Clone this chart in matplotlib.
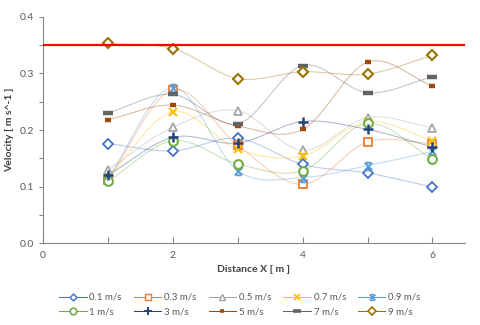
import numpy as np
import matplotlib
matplotlib.use('Agg')
import matplotlib.pyplot as plt
from matplotlib.path import Path

plt.rcParams['font.family'] = ['Lato', 'DejaVu Sans']

# Распределение скорости по расстоянию
distance = [1, 2, 3, 4, 5, 6]
v_01 = [0.176, 0.163, 0.185, 0.139, 0.124, 0.099]
v_03 = [0.112, 0.271, 0.173, 0.104, 0.179, 0.176]
v_05 = [0.130, 0.205, 0.234, 0.164, 0.222, 0.204]
v_07 = [0.116, 0.232, 0.166, 0.154, 0.215, 0.181]
v_09 = [0.115, 0.275, 0.128, 0.116, 0.137, 0.162]
v_1 = [0.109, 0.181, 0.140, 0.128, 0.212, 0.149]
v_3 = [0.120, 0.187, 0.177, 0.215, 0.201, 0.170]
v_5 = [0.218, 0.244, 0.207, 0.201, 0.320, 0.278]
v_7 = [0.230, 0.263, 0.211, 0.314, 0.266, 0.294]
v_9 = [0.353, 0.344, 0.291, 0.303, 0.299, 0.332]
limit = 0.35

labels = ['0.1 m/s', '0.3 m/s', '0.5 m/s', '0.7 m/s', '0.9 m/s',
          '1 m/s', '3 m/s', '5 m/s', '7 m/s', '9 m/s']
series = [v_01, v_03, v_05, v_07, v_09, v_1, v_3, v_5, v_7, v_9]
colors = ['#4472C4', '#ED7D31', '#A5A5A5', '#FFC000', '#5B9BD5',
          '#70AD47', '#264478', '#9E480E', '#636363', '#997300']

# маркер "звезда" как в Excel: X с перекладинами
star = Path([(-1, -1), (1, 1), (-1, 1), (1, -1), (-0.6, 1), (0.6, 1), (-0.6, -1), (0.6, -1)],
            [Path.MOVETO, Path.LINETO, Path.MOVETO, Path.LINETO,
             Path.MOVETO, Path.LINETO, Path.MOVETO, Path.LINETO])

styles = [
    dict(marker='D', ms=4.6, mfc='white', mew=1.3),
    dict(marker='s', ms=5.5, mfc='white', mew=1.3),
    dict(marker='^', ms=6, mfc='white', mew=1.3),
    dict(marker='x', ms=6, mew=1.6),
    dict(marker=star, ms=5.5, mew=1.4),
    dict(marker='o', ms=6.3, mfc='white', mew=1.5),
    dict(marker='+', ms=7.5, mew=1.8),
    dict(marker='_', ms=4.5, mew=3.2),
    dict(marker='_', ms=7.5, mew=3.2),
    dict(marker='D', ms=5, mfc='white', mew=1.5),
]


def smooth(x, y, n=30):
    # сглаженная линия (Catmull-Rom), как в Excel
    x = np.asarray(x, float)
    y = np.asarray(y, float)
    px = np.concatenate([[2 * x[0] - x[1]], x, [2 * x[-1] - x[-2]]])
    py = np.concatenate([[2 * y[0] - y[1]], y, [2 * y[-1] - y[-2]]])
    xs, ys = [], []
    t = np.linspace(0, 1, n)
    for i in range(1, len(px) - 2):
        for p, out in ((px, xs), (py, ys)):
            p0, p1, p2, p3 = p[i - 1], p[i], p[i + 1], p[i + 2]
            out.append(0.5 * (2 * p1 + (-p0 + p2) * t + (2 * p0 - 5 * p1 + 4 * p2 - p3) * t ** 2
                              + (-p0 + 3 * p1 - 3 * p2 + p3) * t ** 3))
    return np.concatenate(xs), np.concatenate(ys)


fig = plt.figure(figsize=(4.8, 3.25), dpi=100)
ax = fig.add_axes([0.0896, 0.252, 0.879, 0.696])

handles = []
for vals, lab, col, st in zip(series, labels, colors, styles):
    sx, sy = smooth(distance, vals)
    ax.plot(sx, sy, color=col, lw=0.75, alpha=0.38, zorder=2)
    ax.plot(distance, vals, ls='none', color=col, mec=col, zorder=3, **st)
    leg_st = dict(st)
    leg_st['ms'] = st['ms'] * 0.75
    leg_st['mew'] = st['mew'] * 0.8
    h, = ax.plot([], [], color=col, mec=col, lw=0.75, **leg_st)
    handles.append(h)

ax.plot([0, 6.5], [limit, limit], color='red', lw=1.6, zorder=4)

ax.set_xlim(0, 6.5)
ax.set_ylim(0, 0.4)
ax.set_xticks([0, 2, 4, 6])
ax.set_xticks([1, 3, 5], minor=True)
ax.set_yticks(np.arange(0, 0.41, 0.1))
ax.set_yticks(np.arange(0.05, 0.4, 0.1), minor=True)
ax.yaxis.set_major_formatter(matplotlib.ticker.FormatStrFormatter('%.1f'))

for s in ['top', 'right']:
    ax.spines[s].set_visible(False)
for s in ['left', 'bottom']:
    ax.spines[s].set_color('#868686')
    ax.spines[s].set_linewidth(0.8)
ax.tick_params(axis='both', which='both', colors='#868686', labelcolor='#595959', labelsize=7.5, width=0.8)
ax.tick_params(axis='x', which='both', direction='in', length=4, pad=6)
ax.tick_params(axis='y', which='both', direction='out', length=3)

ax.set_xlabel('Distance X [ m ]', fontsize=7.5, fontweight='bold', color='#404040', labelpad=3)
ax.set_ylabel('Velocity [ m s^-1 ]', fontsize=7.5, fontweight='bold', color='#404040', labelpad=4)

# порядок для заполнения легенды по строкам
order = [0, 5, 1, 6, 2, 7, 3, 8, 4, 9]
fig.legend([handles[i] for i in order], [labels[i] for i in order], ncol=5,
           loc='lower center', bbox_to_anchor=(0.5, 0.0), frameon=False,
           fontsize=7, handlelength=2.8, columnspacing=1.25, handletextpad=0.3,
           labelspacing=0.55, labelcolor='#595959')

plt.savefig('out.png', dpi=100)
